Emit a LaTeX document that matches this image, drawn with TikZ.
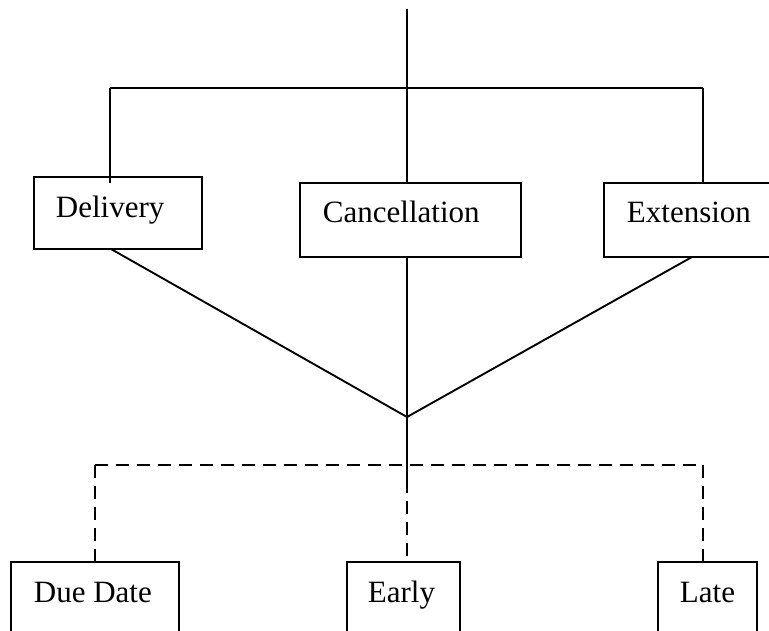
\documentclass[tikz,border=0pt]{standalone}
\usepackage{fontspec}
\setmainfont{Liberation Serif}
\begin{document}
\begin{tikzpicture}[x=1pt,y=-1pt,
  line width=1.9pt,
  boxst/.style={draw,rectangle,inner sep=0pt,line width=1.9pt},
  lbl/.style={anchor=base west,inner sep=0pt,font=\fontsize{31}{36}\selectfont},
  dsh/.style={dash pattern=on 13pt off 8pt}]
\useasboundingbox (0,0) rectangle (769,631);
\clip (0,0) rectangle (769,631);
% boxes
\node[boxst,minimum width=168pt,minimum height=72pt] (del) at (118,213) {};
\node[boxst,minimum width=221pt,minimum height=74pt] (can) at (410.5,220) {};
\node[boxst,minimum width=180pt,minimum height=74pt] (ext) at (694,220) {};
\node[boxst,minimum width=168pt,minimum height=100pt] (due) at (95,612) {};
\node[boxst,minimum width=113pt,minimum height=100pt] (ear) at (403.5,612) {};
\node[boxst,minimum width=99pt,minimum height=100pt] (lat) at (707.5,612) {};
% labels
\node[lbl] at (55,218) {Delivery};
\node[lbl] at (322,223) {Cancellation};
\node[lbl] at (626,223) {Extension};
\node[lbl] at (33,602) {Due Date};
\node[lbl] at (367,602) {Early};
\node[lbl] at (679,602) {Late};
% coordinates
\coordinate (top) at (407,9);
\coordinate (hl) at (110,88);
\coordinate (hr) at (703,88);
\coordinate (v) at (407,417);
\coordinate (dm) at (407,480);
\coordinate (dl) at (95,465);
\coordinate (dr) at (703,465);
% upper connectors
\draw (top) -- (can.north -| top);
\draw (hl) -- (hr);
\draw (hl) -- (110,183);
\draw (hr) -- (ext.north -| hr);
% converging lines
\draw (111,249) -- (v);
\draw (692,257) -- (v);
\draw (can.south -| v) -- (dm);
% dashed
\draw[dsh] (dl) -- (dr);
\draw[dsh] (dl) -- (due.north -| dl);
\draw[dsh] (dm) -- (ear.north -| dm);
\draw[dsh] (dr) -- (lat.north -| dr);
\end{tikzpicture}
\end{document}
